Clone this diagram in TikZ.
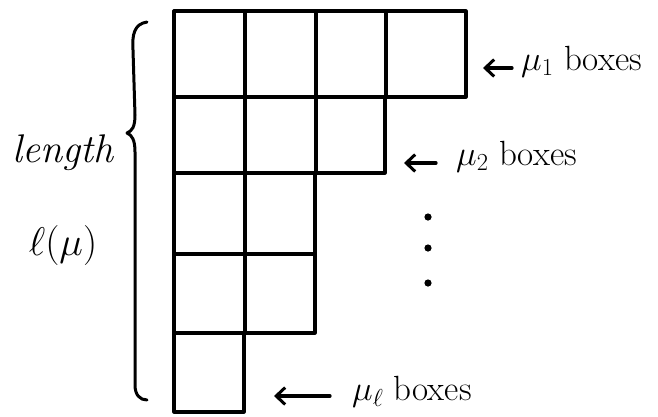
\RequirePackage{fix-cm}
\documentclass[tikz,border=0pt]{standalone}
\usetikzlibrary{arrows.meta}
\begin{document}
\begin{tikzpicture}[x=1pt,y=-1pt,
  cell/.style={line width=3.2pt,line join=round},
  lbl/.style={anchor=west,inner sep=0pt,font=\fontsize{35}{40}\selectfont},
  side/.style={inner sep=0pt,font=\fontsize{40}{46}\selectfont\itshape},
  ptr/.style={line width=3.2pt,line cap=round,-{Straight Barb[length=9pt,width=17pt,line width=3pt]}},
  brace/.style={line width=3pt,line cap=round,line join=round}]
\useasboundingbox (0,0) rectangle (658,416);
% rows of the diagram
\foreach \xa/\xb in {174/245,245/316,316/386,386/466} \draw[cell] (\xa,11) rectangle (\xb,97);
\foreach \xa/\xb in {174/245,245/316,316/385} \draw[cell] (\xa,97) rectangle (\xb,173);
\foreach \xa/\xb in {174/245,245/315} \draw[cell] (\xa,173) rectangle (\xb,254);
\foreach \xa/\xb in {174/245,245/315} \draw[cell] (\xa,254) rectangle (\xb,333);
\draw[cell] (174,333) rectangle (244,412);
% brace
\draw[brace] (147,22) .. controls (134,24) and (132,35) .. (133,50) -- (135,115)
  .. controls (135,127) and (132,131) .. (127,133)
  .. controls (132,135) and (135,140) .. (135,152) -- (135,385)
  .. controls (135,395) and (140,400) .. (147,400);
% side labels
\node[side] (len) at (63,153) {length};
\node[side] (lmu) at (63,245) {$\ell(\mu)$};
% row labels
\node[lbl] (m1) at (521,62) {$\mu_1$ boxes};
\node[lbl] (m2) at (456,157) {$\mu_2$ boxes};
\node[lbl] (ml) at (352,392) {$\mu_\ell$ boxes};
\coordinate (s1) at ([xshift=-9pt,yshift=-6pt]m1.west);
\coordinate (s2) at ([xshift=-20pt,yshift=-6pt]m2.west);
\coordinate (sl) at ([xshift=-22pt,yshift=-4pt]ml.west);
\coordinate (a1) at ([xshift=-29pt]s1);
\coordinate (a2) at ([xshift=-32pt]s2);
\coordinate (al) at ([xshift=-56pt]sl);
\draw[ptr] (s1) -- (a1);
\draw[ptr] (s2) -- (a2);
\draw[ptr] (sl) -- (al);
% dots
\foreach \y in {217,248,283} \fill (428,\y) circle (3.6pt);
\end{tikzpicture}
\end{document}
